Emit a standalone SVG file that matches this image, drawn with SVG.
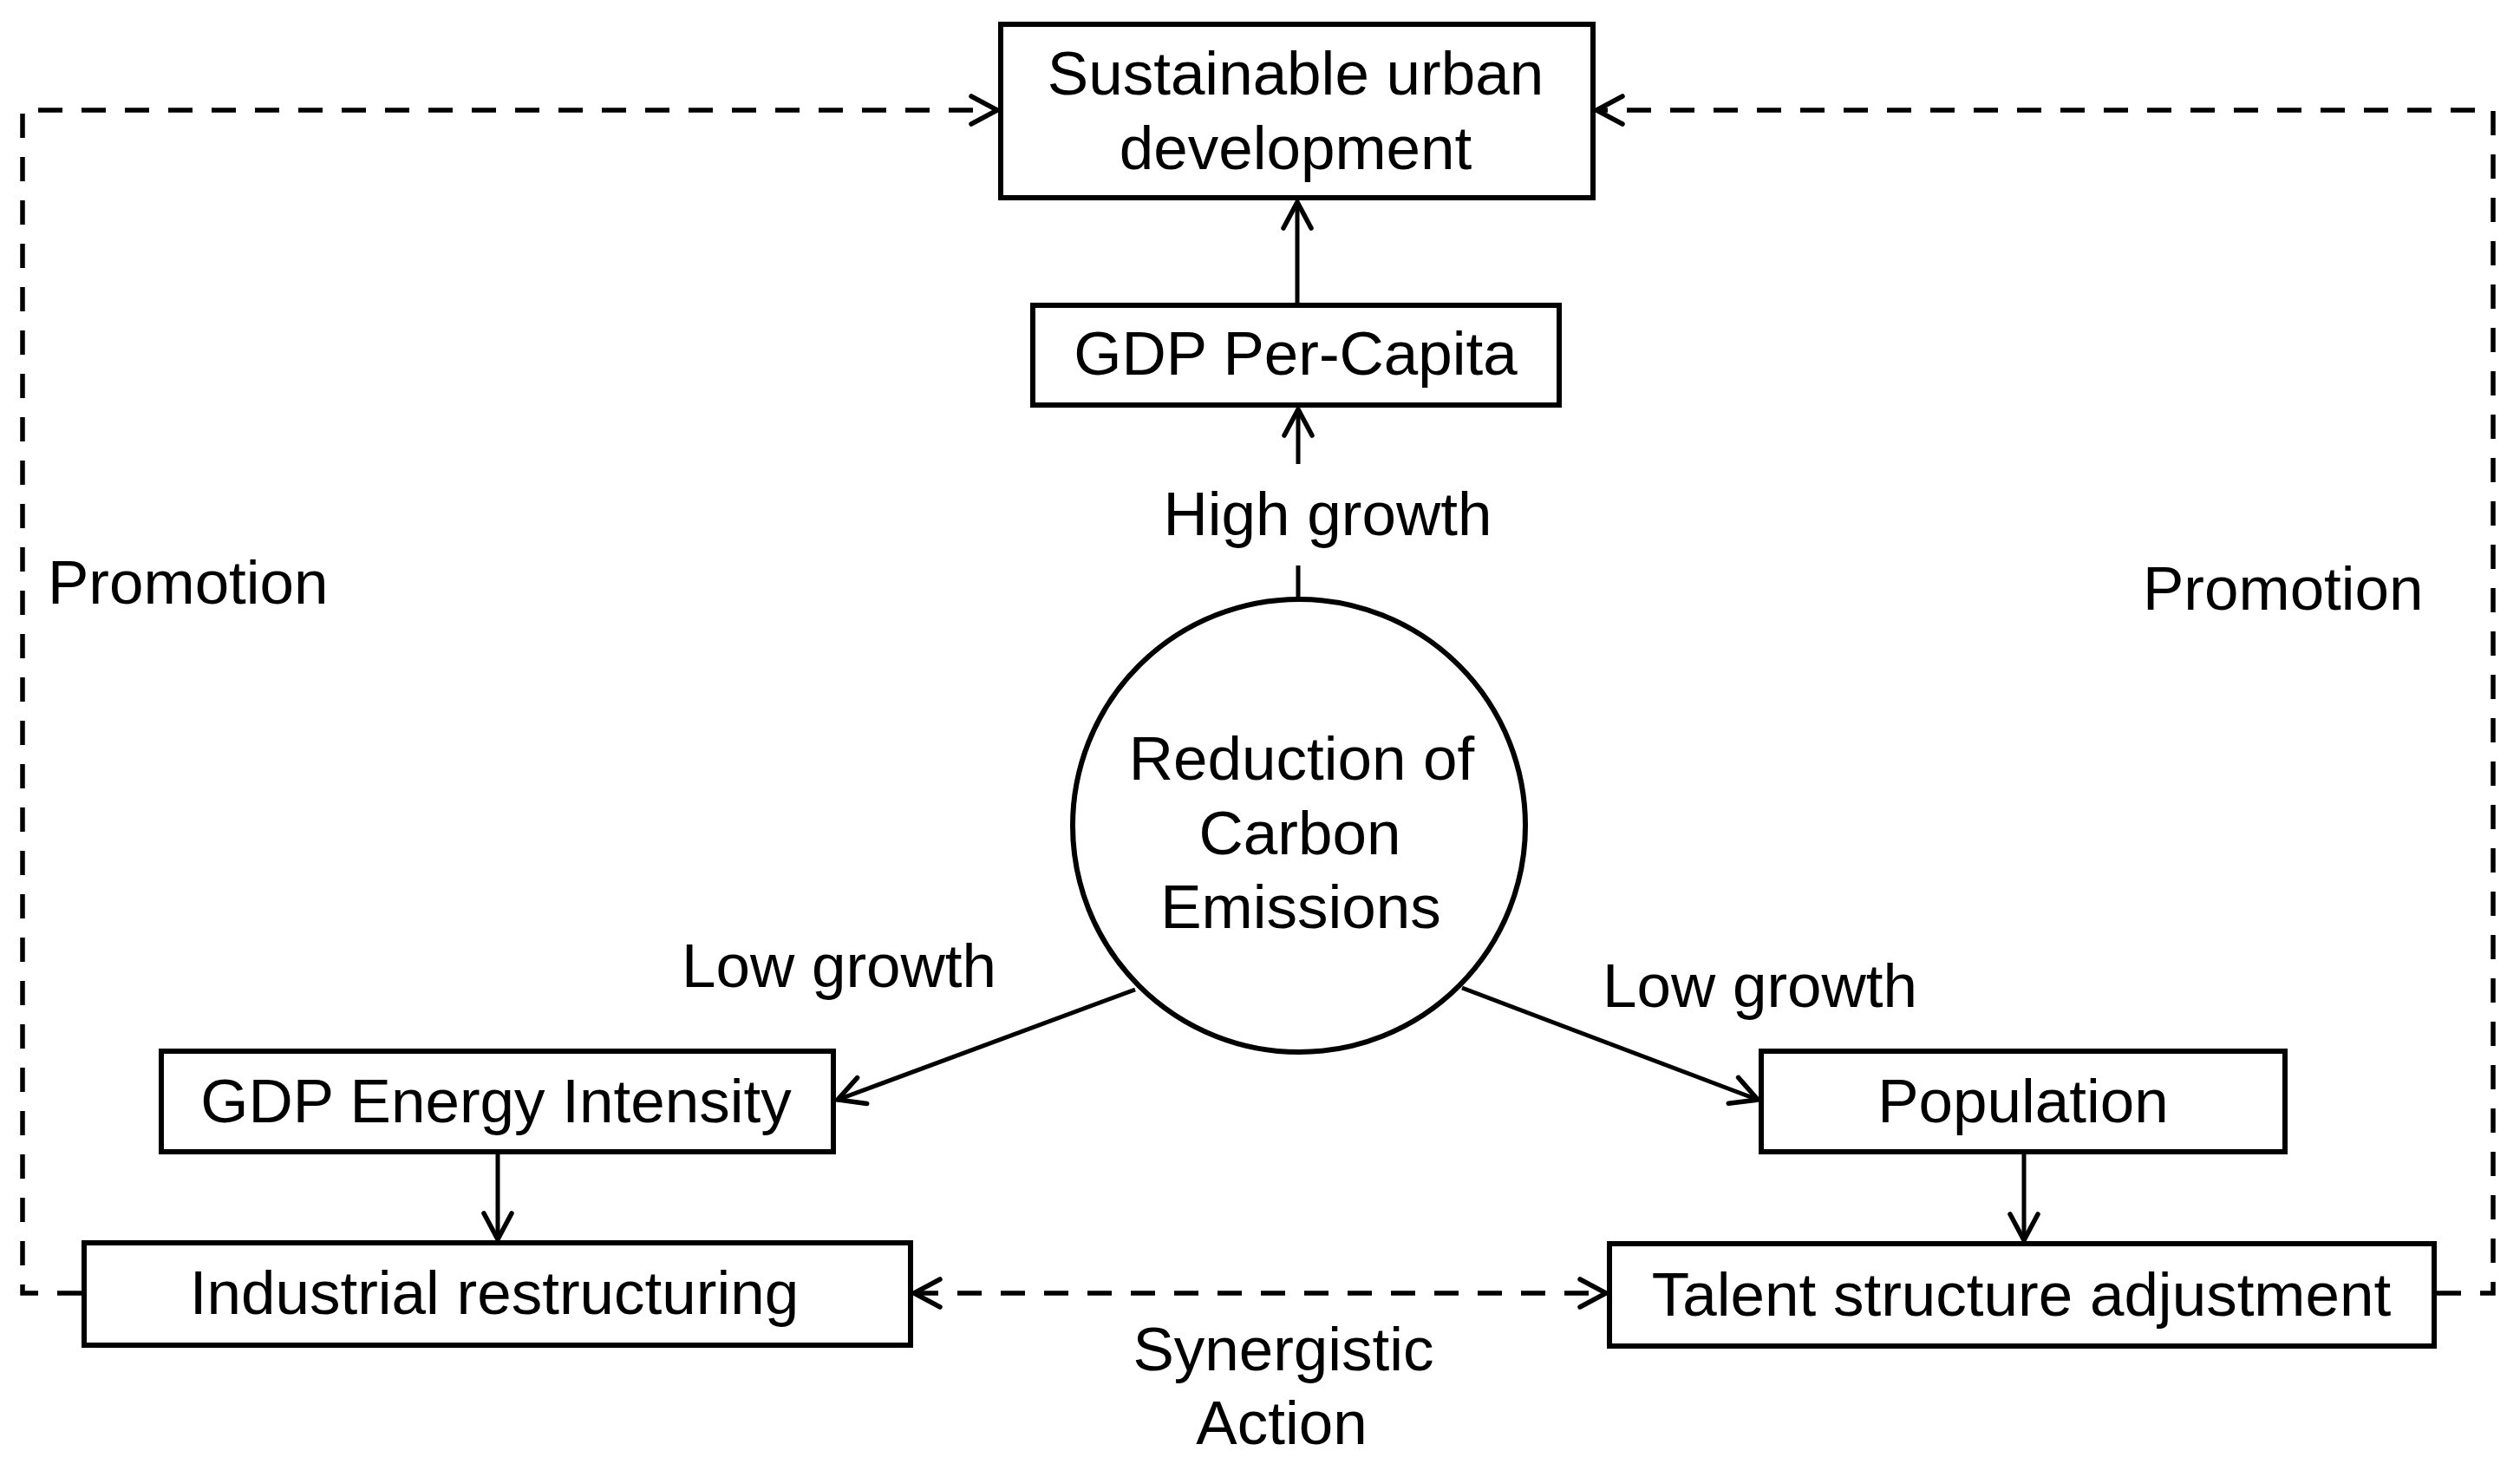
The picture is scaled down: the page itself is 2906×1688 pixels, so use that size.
<svg xmlns="http://www.w3.org/2000/svg" width="2906" height="1688" viewBox="0 0 2906 1688">
<style>
  .box { fill: #ffffff; stroke: #000000; stroke-width: 6; }
  .lbl { font-family: "Liberation Sans", Arial, sans-serif; font-size: 71px; fill: #000000; }
  .mid { text-anchor: middle; }
  .conn { fill: none; stroke: #000000; stroke-width: 5; }
  .dash { fill: none; stroke: #000000; stroke-width: 5.5; stroke-dasharray: 28 22; }
</style>
<defs>
  <marker id="arr" markerUnits="userSpaceOnUse" viewBox="-36 -22 40 44" markerWidth="40" markerHeight="44" refX="0" refY="0" orient="auto-start-reverse">
    <path d="M -30 -16 L 0 0 L -30 16" fill="none" stroke="#000000" stroke-width="5.5" stroke-dasharray="none" stroke-linecap="round" stroke-linejoin="miter"/>
  </marker>
</defs>
<rect width="2906" height="1688" fill="#ffffff"/>

<g id="connectors">
  <path class="conn" d="M 1496 352 V 233" marker-end="url(#arr)"/>
  <path class="conn" d="M 1497 535 V 472" marker-end="url(#arr)"/>
  <path class="conn" d="M 1497 652 V 691"/>
  <path class="conn" d="M 1309 1141 L 966 1268" marker-end="url(#arr)"/>
  <path class="conn" d="M 1686 1139 L 2027 1268" marker-end="url(#arr)"/>
  <path class="conn" d="M 574 1331 V 1429" marker-end="url(#arr)"/>
  <path class="conn" d="M 2334 1331 V 1430" marker-end="url(#arr)"/>
  <path class="dash" d="M 1054 1491 H 1852" marker-start="url(#arr)" marker-end="url(#arr)"/>
  <path class="dash" d="M 94 1491 H 26 V 127 H 1150" marker-end="url(#arr)"/>
  <path class="dash" d="M 2810 1491 H 2875 V 127 H 1841" marker-end="url(#arr)"/>
</g>

<g id="sustainable">
  <rect class="box" x="1154" y="28" width="683" height="200"/>
  <text class="lbl mid" x="1494" y="109">Sustainable urban</text>
  <text class="lbl mid" x="1494" y="195">development</text>
</g>

<g id="gdp-per-capita">
  <rect class="box" x="1191" y="352" width="607" height="115"/>
  <text class="lbl mid" x="1494" y="432">GDP Per-Capita</text>
</g>

<g id="reduction">
  <circle cx="1498" cy="952" r="261" fill="#ffffff" stroke="#000000" stroke-width="6"/>
  <text class="lbl mid" x="1501" y="899">Reduction of</text>
  <text class="lbl mid" x="1499" y="985">Carbon</text>
  <text class="lbl mid" x="1500" y="1070">Emissions</text>
</g>

<g id="gdp-energy">
  <rect class="box" x="186" y="1212" width="775" height="116"/>
  <text class="lbl mid" x="572" y="1294">GDP Energy Intensity</text>
</g>

<g id="population">
  <rect class="box" x="2031" y="1212" width="604" height="116"/>
  <text class="lbl mid" x="2333" y="1294">Population</text>
</g>

<g id="industrial">
  <rect class="box" x="97" y="1433" width="953" height="118"/>
  <text class="lbl mid" x="570" y="1515">Industrial restructuring</text>
</g>

<g id="talent">
  <rect class="box" x="1856" y="1434" width="951" height="118"/>
  <text class="lbl mid" x="2331" y="1517">Talent structure adjustment</text>
</g>

<g id="labels">
  <text class="lbl mid" x="1531" y="617">High growth</text>
  <text class="lbl" x="786" y="1138">Low growth</text>
  <text class="lbl" x="1848" y="1161">Low growth</text>
  <text class="lbl mid" x="1480" y="1580">Synergistic</text>
  <text class="lbl mid" x="1478" y="1665">Action</text>
  <text class="lbl" x="55" y="696">Promotion</text>
  <text class="lbl" x="2471" y="703">Promotion</text>
</g>
</svg>
